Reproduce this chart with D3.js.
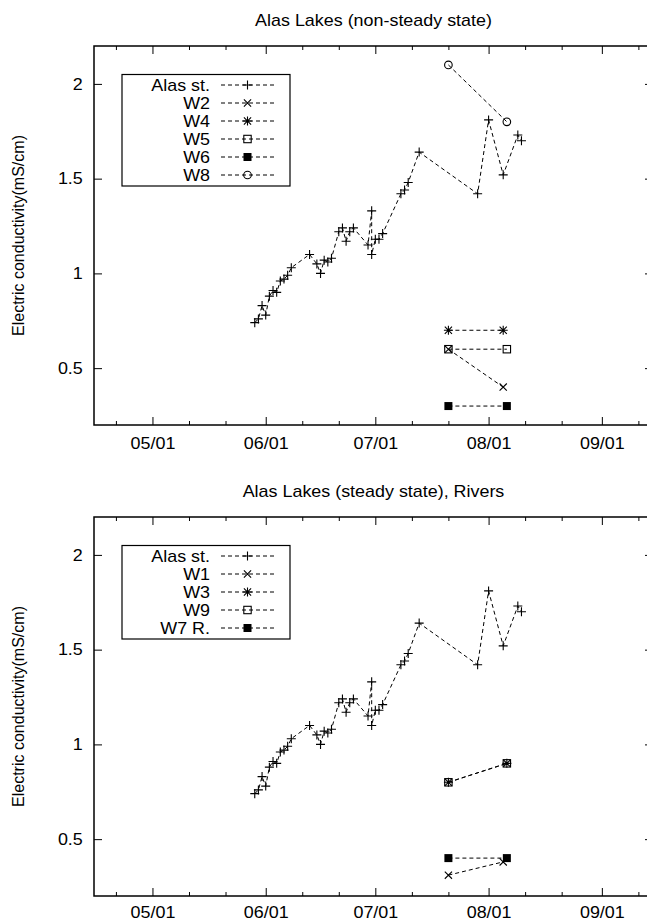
<!DOCTYPE html>
<html>
<head>
<meta charset="utf-8">
<script src="https://cdn.jsdelivr.net/npm/d3@7"></script>
<style>
  body { margin: 0; background: #fff; }
  svg { display: block; font-family: "Liberation Sans", Arial, sans-serif; }
</style>
</head>
<body>
<svg id="chart"></svg>
<script>

// ---- data ----
const monthTicks = ["05/01", "06/01", "07/01", "08/01", "09/01"];
const minorTicks = ["04/21", "05/11", "05/21", "06/11", "06/21", "07/11", "07/21", "08/11", "08/21", "09/11"];
const xDomain = ["04/15", "09/15"];
const yDomain = [0.2, 2.2];
const yTicks = [0.5, 1, 1.5, 2];

const alasDates = ["05/29", "05/30", "05/31", "06/01", "06/02", "06/03", "06/04", "06/05", "06/06", "06/07", "06/08",
    "06/13", "06/15", "06/16", "06/17", "06/18", "06/19", "06/21", "06/22", "06/23", "06/24", "06/25",
    "06/29", "06/30", "06/30", "07/01", "07/02", "07/03", "07/08", "07/09", "07/10", "07/13",
    "07/29", "08/01", "08/05", "08/09", "08/10"];
const alasValues = [0.74, 0.76, 0.83, 0.78, 0.88, 0.91, 0.90, 0.96, 0.97, 0.99, 1.03,
    1.10, 1.05, 1.00, 1.07, 1.06, 1.08, 1.22, 1.24, 1.17, 1.22, 1.24,
    1.15, 1.33, 1.10, 1.18, 1.18, 1.21, 1.42, 1.44, 1.48, 1.64,
    1.42, 1.81, 1.52, 1.73, 1.70];

// top panel: non-steady lakes
const w2Dates = ["07/21", "08/05"], w2Values = [0.60, 0.40];
const w4Dates = ["07/21", "08/05"], w4Values = [0.70, 0.70];
const w5Dates = ["07/21", "08/06"], w5Values = [0.60, 0.60];
const w6Dates = ["07/21", "08/06"], w6Values = [0.30, 0.30];
const w8Dates = ["07/21", "08/06"], w8Values = [2.10, 1.80];

// bottom panel: steady lakes, rivers
const w1Dates = ["07/21", "08/05"], w1Values = [0.31, 0.38];
const w3Dates = ["07/21", "08/06"], w3Values = [0.80, 0.90];
const w9Dates = ["07/21", "08/06"], w9Values = [0.80, 0.90];
const w7Dates = ["07/21", "08/06"], w7Values = [0.40, 0.40];

// ---- setup ----
const width = 647, height = 922;
const plotLeft = 94, plotRight = 653, plotTop = 46, plotBottom = 425;
const panelShift = 471;
const stretch = "scale(1.12,1)";   // the original plot is a bit wider than tall

const parseDay = d3.utcParse("%m/%d");

const svg = d3.select("#chart")
    .attr("width", width)
    .attr("height", height);

const x = d3.scaleUtc()
    .domain(xDomain.map(parseDay))
    .range([plotLeft, plotRight]);

const y = d3.scaleLinear()
    .domain(yDomain)
    .range([plotBottom, plotTop]);

function makeSeries(name, dates, values, kind) {
    return {
        name: name,
        kind: kind,
        points: dates.map((d, i) => ({date: parseDay(d), value: values[i]}))
    };
}

const panels = [
    {
        title: "Alas Lakes (non-steady state)",
        labelPad: 13,
        series: [
            makeSeries("Alas st.", alasDates, alasValues, "plus"),
            makeSeries("W2", w2Dates, w2Values, "cross"),
            makeSeries("W4", w4Dates, w4Values, "star"),
            makeSeries("W5", w5Dates, w5Values, "box"),
            makeSeries("W6", w6Dates, w6Values, "boxfill"),
            makeSeries("W8", w8Dates, w8Values, "circle")
        ]
    },
    {
        title: "Alas Lakes (steady state), Rivers",
        labelPad: 11,   // keep labels inside the page bottom
        series: [
            makeSeries("Alas st.", alasDates, alasValues, "plus"),
            makeSeries("W1", w1Dates, w1Values, "cross"),
            makeSeries("W3", w3Dates, w3Values, "star"),
            makeSeries("W9", w9Dates, w9Values, "box"),
            makeSeries("W7 R.", w7Dates, w7Values, "boxfill")
        ]
    }
];

// gnuplot-ish point symbols
function drawMarker(g, kind) {
    const plus = "M-4.5,0H4.5M0,-4.5V4.5";
    const cross = "M-3.6,-3.6L3.6,3.6M-3.6,3.6L3.6,-3.6";
    if (kind === "plus" || kind === "cross" || kind === "star") {
        let d = kind === "plus" ? plus : kind === "cross" ? cross : plus + cross;
        g.append("path").attr("d", d).attr("stroke", "#000").attr("stroke-width", 1.1).attr("fill", "none");
    } else if (kind === "box") {
        g.append("rect").attr("x", -3.7).attr("y", -3.7).attr("width", 7.4).attr("height", 7.4)
            .attr("fill", "none").attr("stroke", "#000").attr("stroke-width", 1.1);
    } else if (kind === "boxfill") {
        g.append("rect").attr("x", -4).attr("y", -4).attr("width", 8).attr("height", 8)
            .attr("fill", "#000");
    } else if (kind === "circle") {
        g.append("circle").attr("r", 3.8)
            .attr("fill", "none").attr("stroke", "#000").attr("stroke-width", 1.1);
    }
}

const line = d3.line()
    .x(d => x(d.date))
    .y(d => y(d.value));

function cleanAxis(g) {
    g.attr("font-family", null).attr("font-size", 16);
    g.select(".domain").remove();
    g.selectAll(".tick line").attr("stroke", "#000");
    g.selectAll(".tick text").attr("fill", "#000").attr("transform", stretch);
}

panels.forEach((panel, p) => {
    const g = svg.append("g").attr("transform", `translate(0,${p * panelShift})`);

    // title
    g.append("text")
        .attr("transform", `translate(${(plotLeft + plotRight) / 2},26) ${stretch}`)
        .attr("text-anchor", "middle")
        .attr("font-size", 16)
        .text(panel.title);

    // y label
    g.append("text")
        .attr("transform", `translate(18,${(plotTop + plotBottom) / 2}) rotate(-90)`)
        .attr("text-anchor", "middle")
        .attr("dy", "0.35em")
        .attr("font-size", 16)
        .text("Electric conductivity(mS/cm)");

    // axes, ticks pointing inward like gnuplot
    g.append("g")
        .attr("transform", `translate(0,${plotBottom})`)
        .call(d3.axisBottom(x).tickValues(monthTicks.map(parseDay))
            .tickFormat(d3.utcFormat("%m/%d")).tickSize(-8).tickPadding(panel.labelPad))
        .call(cleanAxis);
    g.append("g")
        .attr("transform", `translate(0,${plotBottom})`)
        .call(d3.axisBottom(x).tickValues(minorTicks.map(parseDay)).tickFormat("").tickSize(-4))
        .call(cleanAxis);
    g.append("g")
        .attr("transform", `translate(0,${plotTop})`)
        .call(d3.axisTop(x).tickValues(monthTicks.map(parseDay)).tickFormat("").tickSize(-8))
        .call(cleanAxis);
    g.append("g")
        .attr("transform", `translate(0,${plotTop})`)
        .call(d3.axisTop(x).tickValues(minorTicks.map(parseDay)).tickFormat("").tickSize(-4))
        .call(cleanAxis);
    g.append("g")
        .attr("transform", `translate(${plotLeft},0)`)
        .call(d3.axisLeft(y).tickValues(yTicks).tickFormat(d3.format("")).tickSize(-8).tickPadding(10))
        .call(cleanAxis);
    g.append("g")
        .attr("transform", `translate(${plotRight},0)`)
        .call(d3.axisRight(y).tickValues(yTicks).tickFormat("").tickSize(-8))
        .call(cleanAxis);

    // frame
    g.append("rect")
        .attr("x", plotLeft)
        .attr("y", plotTop)
        .attr("width", plotRight - plotLeft)
        .attr("height", plotBottom - plotTop)
        .attr("fill", "none")
        .attr("stroke", "#000")
        .attr("stroke-width", 1.5);

    // series
    panel.series.forEach(s => {
        g.append("path")
            .datum(s.points)
            .attr("d", line)
            .attr("fill", "none")
            .attr("stroke", "#000")
            .attr("stroke-width", 1)
            .attr("stroke-dasharray", "4,3");

        g.selectAll(null)
            .data(s.points)
            .join("g")
            .attr("transform", d => `translate(${x(d.date)},${y(d.value)})`)
            .each(function () { drawMarker(d3.select(this), s.kind); });
    });

    // key
    const keyTop = 74.5, rowH = 18;
    const key = g.append("g");
    key.append("rect")
        .attr("x", 122)
        .attr("y", keyTop)
        .attr("width", 168)
        .attr("height", panel.series.length * rowH + 3.5)
        .attr("fill", "#fff")
        .attr("stroke", "#000")
        .attr("stroke-width", 1.2);

    const rows = key.selectAll(".row")
        .data(panel.series)
        .join("g")
        .attr("class", "row")
        .attr("transform", (d, i) => `translate(0,${keyTop + 10.5 + i * rowH})`);

    rows.append("text")
        .attr("transform", `translate(210,0) ${stretch}`)
        .attr("dy", "0.35em")
        .attr("text-anchor", "end")
        .attr("font-size", 16)
        .text(d => d.name);

    rows.append("line")
        .attr("x1", 221).attr("x2", 274)
        .attr("stroke", "#000")
        .attr("stroke-width", 1)
        .attr("stroke-dasharray", "4,3");

    rows.append("g")
        .attr("transform", "translate(247.5,0)")
        .each(function (d) { drawMarker(d3.select(this), d.kind); });
});

</script>
</body>
</html>
